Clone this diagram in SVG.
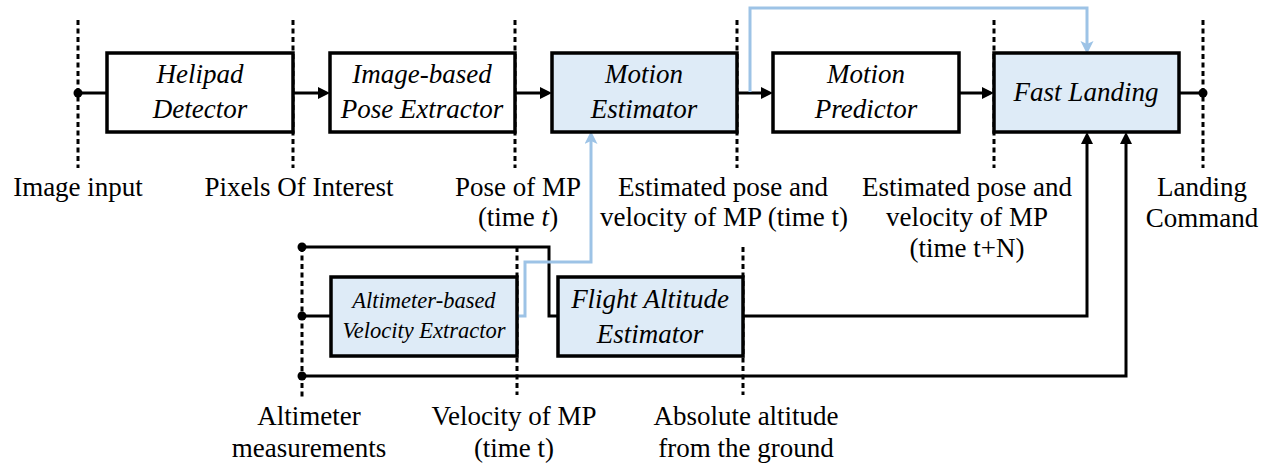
<svg xmlns="http://www.w3.org/2000/svg" width="1269" height="463" viewBox="0 0 1269 463">
<defs>
<marker id="ak" markerUnits="userSpaceOnUse" markerWidth="13" markerHeight="13" refX="4" refY="6" orient="auto"><path d="M0,0 L12,6 L0,12 z" fill="#000"/></marker>
<marker id="ab" markerUnits="userSpaceOnUse" markerWidth="14" markerHeight="14" refX="4" refY="6.5" orient="auto"><path d="M0,0 L13,6.5 L0,13 L3,6.5 z" fill="#9dc3e6"/></marker>
</defs>
<rect width="1269" height="463" fill="#fff"/>
<g id="dividers" fill="none" stroke="#000" stroke-width="3" stroke-dasharray="5 3.5">
<line x1="78" y1="20" x2="78" y2="168"/>
<line x1="293" y1="20" x2="293" y2="168"/>
<line x1="515" y1="20" x2="515" y2="168"/>
<line x1="737" y1="20" x2="737" y2="168"/>
<line x1="994" y1="20" x2="994" y2="168"/>
<line x1="1203" y1="20" x2="1203" y2="168"/>
<line x1="302" y1="247" x2="302" y2="397"/>
<line x1="517" y1="247" x2="517" y2="395"/>
<line x1="743" y1="247" x2="743" y2="395"/>
</g>
<g id="connectors" fill="none" stroke-width="3">
<g stroke="#000">
<line x1="78" y1="93" x2="107" y2="93"/>
<line x1="293" y1="93" x2="322" y2="93" marker-end="url(#ak)"/>
<line x1="515" y1="93" x2="544" y2="93" marker-end="url(#ak)"/>
<line x1="737" y1="93" x2="765" y2="93" marker-end="url(#ak)"/>
<line x1="959" y1="93" x2="986" y2="93" marker-end="url(#ak)"/>
<line x1="1179" y1="93" x2="1203" y2="93"/>
<polyline points="302,247 549,247 549,316 558,316"/>
<line x1="302" y1="316" x2="331" y2="316"/>
<polyline points="743,316 1087,316 1087,140" marker-end="url(#ak)"/>
<polyline points="302,376 1126,376 1126,140" marker-end="url(#ak)"/>
</g>
<g stroke="#9dc3e6">
<polyline points="750,92 750,8 1087,8 1087,45" marker-end="url(#ab)"/>
<polyline points="517,316 525,316 525,262 591,262 591,140" marker-end="url(#ab)"/>
</g>
<g fill="#000">
<circle cx="78" cy="93" r="4.5"/>
<circle cx="1203" cy="93" r="4.5"/>
<circle cx="302" cy="247" r="4.5"/>
<circle cx="302" cy="316" r="4.5"/>
<circle cx="302" cy="376" r="4.5"/>
</g>
</g>
<g id="nodes" stroke="#000" stroke-width="3.5" font-family="Liberation Serif, serif" font-style="italic" font-size="27" text-anchor="middle">
<g id="helipad-detector"><rect fill="#fff" x="107" y="53" width="186" height="79"/><text stroke="none" x="200" y="83">Helipad</text><text stroke="none" x="200" y="118">Detector</text></g>
<g id="pose-extractor"><rect fill="#fff" x="330" y="53" width="185" height="79"/><text stroke="none" x="422" y="83">Image-based</text><text stroke="none" x="422" y="118">Pose Extractor</text></g>
<g id="motion-estimator"><rect fill="#deebf7" x="552" y="53" width="185" height="79"/><text stroke="none" x="644" y="83">Motion</text><text stroke="none" x="644" y="118">Estimator</text></g>
<g id="motion-predictor"><rect fill="#fff" x="773" y="53" width="186" height="79"/><text stroke="none" x="866" y="83">Motion</text><text stroke="none" x="866" y="118">Predictor</text></g>
<g id="fast-landing"><rect fill="#deebf7" x="994" y="53" width="185" height="79"/><text stroke="none" x="1086" y="101">Fast Landing</text></g>
<g id="velocity-extractor"><rect fill="#deebf7" x="331" y="277" width="186" height="79"/><text stroke="none" font-size="22.5" x="424" y="308">Altimeter-based</text><text stroke="none" font-size="22.5" x="424" y="338">Velocity Extractor</text></g>
<g id="altitude-estimator"><rect fill="#deebf7" x="558" y="277" width="185" height="79"/><text stroke="none" x="650" y="308">Flight Altitude</text><text stroke="none" x="650" y="343">Estimator</text></g>
</g>
<g id="labels" font-family="Liberation Serif, serif" font-size="27" text-anchor="middle" fill="#000">
<text x="78" y="196">Image input</text>
<text x="299" y="196">Pixels Of Interest</text>
<text x="518" y="196">Pose of MP</text>
<text x="518" y="226">(time <tspan font-style="italic">t</tspan>)</text>
<text x="723" y="196">Estimated pose and</text>
<text x="724" y="226">velocity of MP (time t)</text>
<text x="967" y="196">Estimated pose and</text>
<text x="967" y="226">velocity of MP</text>
<text x="967" y="257">(time t+N)</text>
<text x="1202" y="196">Landing</text>
<text x="1202" y="227">Command</text>
<text x="309" y="425">Altimeter</text>
<text x="309" y="457">measurements</text>
<text x="514" y="425">Velocity of MP</text>
<text x="514" y="457">(time t)</text>
<text x="746" y="425">Absolute altitude</text>
<text x="746" y="457">from the ground</text>
</g>
</svg>
